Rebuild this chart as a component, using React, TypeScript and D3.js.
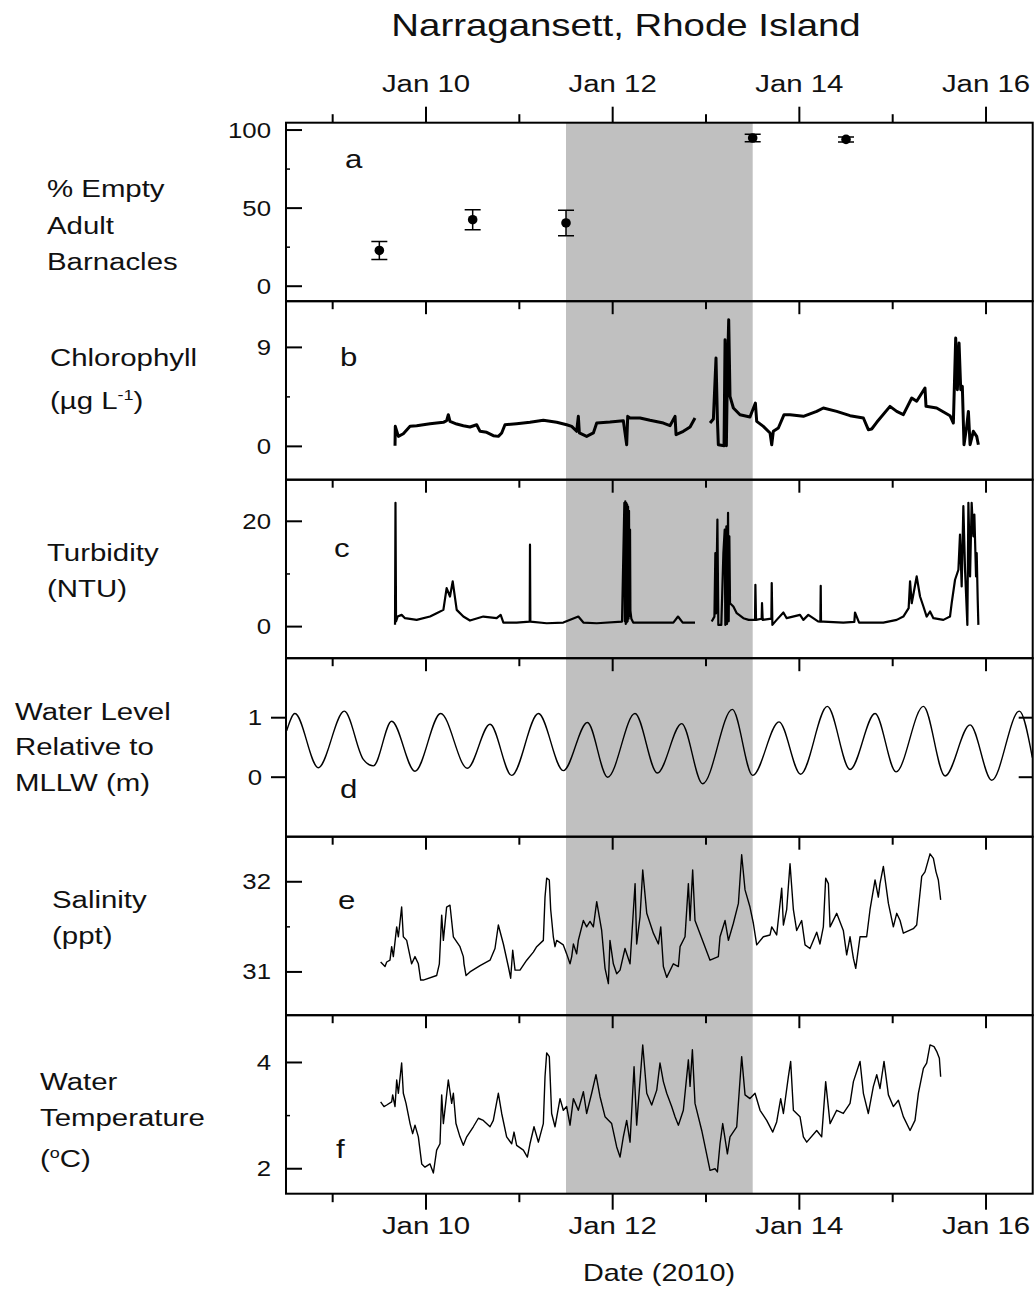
import React from 'react';
import * as d3 from 'd3';

const W = 1034;
const H = 1300;
const FONT = 'Liberation Sans, Arial, Helvetica, sans-serif';
const SX = 1.2;

const xDomain = [8.5, 16.5];
const majorDays = [10, 12, 14, 16];
const minorDays = [9, 11, 13, 15];
const dayLabels = ['Jan 10', 'Jan 12', 'Jan 14', 'Jan 16'];
const shadeDays = [11.5, 13.5];

// Panel a: % empty adult barnacles
const barnDays = [9.5, 10.5, 11.5, 13.5, 14.5];
const barnMean = [22.9, 42.6, 40.5, 94.9, 94.0];
const barnErr = [5.8, 6.4, 8.2, 2.4, 1.6];

// Panel b: chlorophyll (null = gap)
const chlData: [number, number | null][] = [
  [9.668, 0.06], [9.671, 1.82], [9.704, 0.91], [9.757, 1.15], [9.829, 1.82], [9.9, 1.88], [9.971, 1.97],
  [10.043, 2.06], [10.114, 2.12], [10.186, 2.19], [10.221, 2.34], [10.239, 2.88], [10.257, 2.27], [10.329, 2.03],
  [10.4, 1.88], [10.471, 1.76], [10.543, 1.97], [10.579, 1.37], [10.65, 1.28], [10.721, 0.97], [10.775, 0.91],
  [10.811, 1.22], [10.846, 1.97], [10.971, 2.06], [11.114, 2.19], [11.257, 2.37], [11.4, 2.19], [11.507, 1.97],
  [11.561, 1.82], [11.614, 1.37], [11.632, 2.73], [11.643, 1.22], [11.721, 0.91], [11.793, 1.22], [11.829, 2.12],
  [11.971, 2.21], [12.114, 2.34], [12.15, 0.15], [12.161, 2.73], [12.186, 2.58], [12.293, 2.58], [12.4, 2.37],
  [12.543, 2.12], [12.614, 1.88], [12.668, 2.73], [12.679, 1.06], [12.757, 1.37], [12.829, 1.76], [12.882, 2.58],
  [12.95, null],
  [13.043, 2.12], [13.079, 2.49], [13.107, 8.03], [13.122, 2.43], [13.132, 0.15], [13.193, 0.06], [13.204, 9.7],
  [13.218, 0.06], [13.229, 6.67], [13.243, 11.52], [13.257, 4.55], [13.293, 3.49], [13.364, 2.88], [13.471, 2.67],
  [13.529, 3.94], [13.543, 2.27], [13.614, 1.82], [13.686, 1.22], [13.704, 0.15], [13.721, 1.37], [13.775, 1.67],
  [13.836, 2.88], [13.9, 2.88], [14.043, 2.73], [14.186, 3.18], [14.257, 3.49], [14.4, 3.18], [14.543, 2.79],
  [14.686, 2.58], [14.739, 1.52], [14.775, 1.58], [14.829, 2.19], [14.971, 3.64], [15.043, 3.18], [15.114, 2.88],
  [15.204, 4.4], [15.257, 4.1], [15.346, 5.31], [15.357, 3.64], [15.471, 3.49], [15.614, 2.79], [15.65, 2.12],
  [15.675, 9.85], [15.693, 5.15], [15.711, 9.4], [15.729, 5.15], [15.746, 5.46], [15.764, 0.15], [15.793, 1.82],
  [15.811, 3.18], [15.829, 0.15], [15.864, 1.37], [15.9, 0.91], [15.918, 0.15],
];

// Panel c: turbidity (null = gap)
const turbData: [number, number | null][] = [
  [9.668, 0.33], [9.673, 23.5], [9.679, 1.0], [9.696, 1.91], [9.739, 2.23], [9.775, 1.6], [9.9, 1.28],
  [10.043, 1.91], [10.114, 2.55], [10.186, 3.18], [10.221, 7.31], [10.257, 5.72], [10.286, 8.58], [10.329, 3.18],
  [10.4, 1.91], [10.471, 1.15], [10.614, 1.91], [10.757, 1.6], [10.8, 2.23], [10.829, 0.77], [10.971, 0.77],
  [11.111, 0.96], [11.114, 15.56], [11.118, 0.96], [11.293, 0.64], [11.471, 0.77], [11.632, 1.91], [11.686, 0.77],
  [11.829, 0.64], [12.1, 0.96], [12.125, 23.5], [12.13, 1.0], [12.135, 23.8], [12.14, 0.5], [12.145, 23.5],
  [12.15, 0.8], [12.155, 23.2], [12.16, 1.0], [12.165, 22.8], [12.17, 1.5], [12.175, 22.0], [12.18, 2.0],
  [12.186, 18.4], [12.19, 3.0], [12.2, 1.5], [12.22, 0.77], [12.4, 0.77], [12.65, 0.77], [12.7, 1.91],
  [12.75, 0.77], [12.882, 0.77],
  [12.95, null],
  [13.061, 0.96], [13.09, 1.9], [13.1, 13.98], [13.107, 2.5], [13.122, 20.33], [13.132, 0.33], [13.164, 0.33],
  [13.186, 13.98], [13.2, 18.4], [13.207, 0.33], [13.218, 19.06], [13.225, 0.5], [13.236, 21.6], [13.243, 1.0],
  [13.25, 17.15], [13.257, 4.45], [13.293, 3.82], [13.329, 2.55], [13.4, 1.6], [13.457, 1.28], [13.525, 1.28],
  [13.529, 7.94], [13.536, 1.28], [13.596, 1.5], [13.6, 4.45], [13.607, 1.28], [13.7, 1.5], [13.704, 8.26],
  [13.711, 0.33], [13.757, 1.28], [13.829, 2.68], [13.864, 1.6], [14.007, 2.23], [14.043, 1.28], [14.096, 2.23],
  [14.2, 1.0], [14.225, 0.96], [14.229, 7.76], [14.232, 0.96], [14.257, 0.96], [14.471, 0.77], [14.589, 0.9],
  [14.596, 2.68], [14.64, 0.77], [14.9, 0.77], [15.043, 1.28], [15.114, 1.91], [15.171, 3.5], [15.186, 8.58],
  [15.204, 4.45], [15.257, 9.53], [15.293, 5.72], [15.329, 3.82], [15.364, 1.91], [15.4, 2.87], [15.436, 1.6],
  [15.543, 1.28], [15.614, 1.91], [15.632, 4.45], [15.668, 8.9], [15.704, 10.8], [15.721, 17.47], [15.739, 7.63],
  [15.757, 22.87], [15.775, 10.8], [15.8, 0.33], [15.811, 23.5], [15.829, 9.53], [15.846, 23.5], [15.864, 17.15],
  [15.875, 21.28], [15.893, 9.53], [15.9, 13.98], [15.911, 5.0], [15.918, 0.33],
];

// Panel d: water level relative to MLLW (m), highs and lows
const tideData: [number, number][] = [
  [8.507, 0.78], [8.596, 1.07], [8.846, 0.16], [9.125, 1.11], [9.328, 0.3], [9.436, 0.19], [9.632, 0.94],
  [9.882, 0.1], [10.157, 1.07], [10.443, 0.15], [10.686, 0.89], [10.918, 0.03], [11.204, 1.07], [11.471, 0.11],
  [11.729, 0.92], [11.946, 0.0], [12.239, 1.07], [12.479, 0.07], [12.739, 0.9], [12.964, -0.11], [13.282, 1.14],
  [13.5, 0.03], [13.782, 0.93], [14.014, 0.05], [14.3, 1.19], [14.543, 0.13], [14.811, 1.07], [15.036, 0.09],
  [15.329, 1.19], [15.561, 0.02], [15.829, 0.88], [16.061, -0.05], [16.357, 1.11], [16.496, 0.33],
];

// Panel e: salinity (ppt)
const salData: [number, number][] = [
  [9.514, 31.11], [9.561, 31.06], [9.579, 31.11], [9.614, 31.13], [9.632, 31.28], [9.65, 31.17], [9.686, 31.5],
  [9.704, 31.39], [9.739, 31.72], [9.757, 31.39], [9.793, 31.35], [9.846, 31.09], [9.882, 31.17], [9.918, 31.09],
  [9.943, 30.91], [9.971, 30.91], [10.114, 30.96], [10.143, 31.09], [10.168, 31.63], [10.186, 31.35], [10.221, 31.72],
  [10.257, 31.74], [10.293, 31.39], [10.364, 31.28], [10.4, 31.17], [10.407, 31.09], [10.429, 30.96], [10.471, 31.0],
  [10.579, 31.07], [10.686, 31.13], [10.739, 31.26], [10.775, 31.52], [10.829, 31.31], [10.882, 31.06], [10.907, 30.93],
  [10.929, 31.24], [10.954, 31.02], [11.007, 31.02], [11.079, 31.13], [11.15, 31.22], [11.186, 31.28], [11.257, 31.35],
  [11.275, 31.83], [11.293, 32.04], [11.321, 32.02], [11.336, 31.69], [11.364, 31.39], [11.382, 31.28], [11.4, 31.35],
  [11.471, 31.3], [11.507, 31.2], [11.543, 31.09], [11.561, 31.17], [11.579, 31.31], [11.614, 31.2], [11.632, 31.35],
  [11.686, 31.57], [11.721, 31.5], [11.757, 31.56], [11.793, 31.5], [11.829, 31.78], [11.857, 31.61], [11.882, 31.46],
  [11.918, 31.04], [11.954, 30.87], [11.971, 31.35], [12.007, 31.09], [12.043, 30.98], [12.079, 31.02], [12.132, 31.26],
  [12.186, 31.09], [12.24, 31.98], [12.257, 31.31], [12.293, 31.61], [12.322, 32.13], [12.365, 31.65], [12.436, 31.43],
  [12.49, 31.31], [12.515, 31.5], [12.543, 31.06], [12.579, 30.94], [12.65, 31.09], [12.704, 31.06], [12.722, 31.28],
  [12.775, 31.39], [12.811, 31.98], [12.829, 31.57], [12.857, 32.13], [12.882, 31.57], [13.043, 31.13], [13.132, 31.17],
  [13.15, 31.39], [13.204, 31.57], [13.24, 31.35], [13.293, 31.54], [13.347, 31.76], [13.382, 32.3], [13.418, 31.91],
  [13.471, 31.72], [13.507, 31.54], [13.543, 31.3], [13.614, 31.39], [13.686, 31.41], [13.704, 31.5], [13.757, 31.41],
  [13.811, 31.93], [13.829, 31.52], [13.864, 31.69], [13.9, 32.2], [13.936, 31.69], [13.971, 31.46], [14.025, 31.57],
  [14.061, 31.3], [14.114, 31.26], [14.186, 31.44], [14.221, 31.31], [14.257, 31.5], [14.282, 32.04], [14.311, 31.98],
  [14.329, 31.5], [14.4, 31.65], [14.471, 31.46], [14.507, 31.19], [14.543, 31.39], [14.579, 31.15], [14.604, 31.04],
  [14.65, 31.39], [14.721, 31.39], [14.757, 31.69], [14.811, 32.02], [14.846, 31.83], [14.864, 31.98], [14.9, 32.17],
  [14.954, 31.76], [15.007, 31.5], [15.043, 31.65], [15.079, 31.57], [15.114, 31.43], [15.221, 31.48], [15.257, 31.52],
  [15.311, 32.06], [15.346, 32.11], [15.4, 32.31], [15.436, 32.26], [15.464, 32.11], [15.489, 32.02], [15.514, 31.8],
];

// Panel f: water temperature (°C)
const tempData: [number, number][] = [
  [9.514, 3.26], [9.55, 3.17], [9.579, 3.2], [9.632, 3.26], [9.643, 3.39], [9.668, 3.17], [9.686, 3.67],
  [9.704, 3.42], [9.739, 3.99], [9.757, 3.42], [9.786, 3.23], [9.829, 2.85], [9.857, 2.66], [9.882, 2.82],
  [9.918, 2.6], [9.954, 2.09], [9.989, 2.03], [10.043, 2.09], [10.079, 1.92], [10.114, 2.35], [10.15, 2.47],
  [10.168, 3.39], [10.186, 2.85], [10.239, 3.67], [10.275, 3.23], [10.293, 3.42], [10.321, 2.85], [10.364, 2.6],
  [10.4, 2.44], [10.436, 2.6], [10.507, 2.79], [10.561, 2.95], [10.614, 2.91], [10.686, 2.79], [10.721, 2.91],
  [10.775, 3.42], [10.811, 3.04], [10.864, 2.6], [10.918, 2.47], [10.943, 2.69], [10.971, 2.44], [11.043, 2.35],
  [11.086, 2.22], [11.114, 2.47], [11.157, 2.79], [11.204, 2.5], [11.257, 2.85], [11.275, 3.73], [11.293, 4.18],
  [11.321, 4.11], [11.346, 3.04], [11.382, 2.79], [11.436, 3.32], [11.471, 3.1], [11.507, 3.17], [11.543, 2.82],
  [11.579, 3.32], [11.632, 3.1], [11.686, 3.45], [11.721, 3.04], [11.775, 3.42], [11.821, 3.77], [11.864, 3.36],
  [11.918, 2.98], [11.989, 2.85], [12.043, 2.41], [12.079, 2.22], [12.114, 2.6], [12.15, 2.91], [12.186, 2.5],
  [12.229, 3.92], [12.257, 2.82], [12.322, 4.33], [12.365, 3.42], [12.418, 3.2], [12.472, 3.48], [12.507, 3.99],
  [12.543, 3.64], [12.579, 3.42], [12.632, 3.17], [12.668, 2.98], [12.704, 2.82], [12.757, 3.1], [12.811, 4.05],
  [12.829, 3.55], [12.854, 4.24], [12.882, 3.23], [12.954, 2.72], [13.043, 1.97], [13.097, 2.0], [13.122, 1.94],
  [13.15, 2.47], [13.179, 2.85], [13.229, 2.28], [13.257, 2.6], [13.329, 2.79], [13.382, 4.11], [13.418, 3.39],
  [13.471, 3.32], [13.525, 3.42], [13.579, 3.1], [13.65, 2.91], [13.715, 2.69], [13.757, 2.88], [13.8, 3.32],
  [13.829, 3.04], [13.882, 3.73], [13.907, 4.02], [13.936, 3.1], [14.007, 2.98], [14.043, 2.6], [14.079, 2.5],
  [14.186, 2.72], [14.239, 2.6], [14.282, 3.64], [14.329, 2.85], [14.4, 3.1], [14.471, 3.04], [14.543, 3.23],
  [14.579, 3.64], [14.65, 4.02], [14.686, 3.42], [14.739, 3.04], [14.793, 3.55], [14.829, 3.77], [14.864, 3.51],
  [14.907, 4.02], [14.954, 3.39], [15.007, 3.17], [15.061, 3.29], [15.114, 2.98], [15.186, 2.72], [15.239, 2.91],
  [15.275, 3.42], [15.329, 3.89], [15.364, 3.99], [15.4, 4.33], [15.443, 4.3], [15.471, 4.21], [15.5, 4.08],
  [15.514, 3.73],
];

const PLOT_LEFT = 286;
const PLOT_RIGHT = 1032.7;
const PANEL_TOP = 122.7;
const PANEL_H = 178.5;

type Panel = {
  key: string;
  letter: string;
  letterX: number;
  letterDy: number;
  domain: [number, number];
  major: number[];
  minor: number[];
  labels: { text: React.ReactNode; x: number; y: number }[];
  data?: [number, number | null][];
  width?: number;
  curve?: any;
  tideStyle?: boolean;
};

const sup = (base: string, s: string, tail: string) => (
  <>
    {base}
    <tspan dy={-9} fontSize={15}>{s}</tspan>
    <tspan dy={9}>{tail}</tspan>
  </>
);

const panels: Panel[] = [
  {
    key: 'a', letter: 'a', letterX: 345, letterDy: 45, domain: [-9.6, 104.7], major: [0, 50, 100], minor: [25, 75],
    labels: [
      { text: '% Empty', x: 47, y: 197 },
      { text: 'Adult', x: 47, y: 234 },
      { text: 'Barnacles', x: 47, y: 270 },
    ],
  },
  {
    key: 'b', letter: 'b', letterX: 340, letterDy: 65, domain: [-3.03, 13.2], major: [0, 9], minor: [4.5],
    labels: [
      { text: 'Chlorophyll', x: 50, y: 366 },
      { text: sup('(µg L', '-1', ')'), x: 50, y: 409 },
    ],
    data: chlData, width: 3,
  },
  {
    key: 'c', letter: 'c', letterX: 334, letterDy: 77, domain: [-6.0, 27.9], major: [0, 20], minor: [10],
    labels: [
      { text: 'Turbidity', x: 47, y: 561 },
      { text: '(NTU)', x: 47, y: 597 },
    ],
    data: turbData, width: 2.2,
  },
  {
    key: 'd', letter: 'd', letterX: 340, letterDy: 140, domain: [-1, 2], major: [0, 1], minor: [],
    labels: [
      { text: 'Water Level', x: 15, y: 720 },
      { text: 'Relative to', x: 15, y: 755 },
      { text: 'MLLW (m)', x: 15, y: 791 },
    ],
    data: tideData, width: 1.4, curve: d3.curveMonotoneX, tideStyle: true,
  },
  {
    key: 'e', letter: 'e', letterX: 338, letterDy: 72, domain: [30.52, 32.5], major: [31, 32], minor: [31.5],
    labels: [
      { text: 'Salinity', x: 52, y: 908 },
      { text: '(ppt)', x: 52, y: 944 },
    ],
    data: salData, width: 1.4,
  },
  {
    key: 'f', letter: 'f', letterX: 336, letterDy: 143, domain: [1.53, 4.89], major: [2, 4], minor: [3],
    labels: [
      { text: 'Water', x: 40, y: 1090 },
      { text: 'Temperature', x: 40, y: 1126 },
      { text: sup('(', 'o', 'C)'), x: 40, y: 1167 },
    ],
    data: tempData, width: 1.4,
  },
];

const T = ({ x, y, size, anchor = 'start', children, sx = SX }: any) => (
  <text
    transform={`translate(${x},${y}) scale(${sx},1)`}
    fontSize={size}
    fontFamily={FONT}
    textAnchor={anchor}
    fill="#111"
  >
    {children}
  </text>
);

export default function App() {
  const x = d3.scaleLinear().domain(xDomain).range([PLOT_LEFT, PLOT_RIGHT]);
  const bottomAll = PANEL_TOP + PANEL_H * panels.length;

  return (
    <svg
      width={W}
      height={H}
      viewBox={`0 0 ${W} ${H}`}
      style={{ position: 'absolute', left: 0, top: 0, background: '#fff' }}
    >
      <rect x={0} y={0} width={W} height={H} fill="#fff" />
      <defs>
        {panels.map((p, i) => (
          <clipPath id={`clip-${p.key}`} key={p.key}>
            <rect x={PLOT_LEFT} y={PANEL_TOP + i * PANEL_H} width={PLOT_RIGHT - PLOT_LEFT} height={PANEL_H} />
          </clipPath>
        ))}
      </defs>

      {/* shaded period */}
      <rect
        x={x(shadeDays[0])}
        y={PANEL_TOP}
        width={x(shadeDays[1]) - x(shadeDays[0])}
        height={bottomAll - PANEL_TOP}
        fill="#c0c0c0"
      />

      {/* title */}
      <T x={626} y={36} size={32} anchor="middle">Narragansett, Rhode Island</T>

      {/* top axis labels */}
      {majorDays.map((d, i) => (
        <T key={`tl${d}`} x={x(d)} y={92} size={24.5} anchor="middle">{dayLabels[i]}</T>
      ))}
      {/* bottom axis labels */}
      {majorDays.map((d, i) => (
        <T key={`bl${d}`} x={x(d)} y={1234} size={24.5} anchor="middle">{dayLabels[i]}</T>
      ))}
      <T x={659} y={1281} size={24} anchor="middle">Date (2010)</T>

      {panels.map((p, i) => {
        const top = PANEL_TOP + i * PANEL_H;
        const bottom = top + PANEL_H;
        const y = d3.scaleLinear().domain(p.domain).range([bottom, top]);
        const first = i === 0;
        const last = i === panels.length - 1;
        let path: string | null = null;
        if (p.data) {
          const line = d3
            .line<[number, number | null]>()
            .defined((d) => d[1] !== null)
            .x((d) => x(d[0]))
            .y((d) => y(d[1] as number));
          if (p.curve) line.curve(p.curve);
          path = line(p.data);
        }
        return (
          <g key={p.key}>
            <g clipPath={`url(#clip-${p.key})`}>
              {path && (
                <path d={path} fill="none" stroke="#000" strokeWidth={p.width} strokeLinejoin="round" />
              )}
              {p.key === 'a' &&
                barnDays.map((d, j) => {
                  const cx = x(d);
                  return (
                    <g key={j}>
                      <line x1={cx} x2={cx} y1={y(barnMean[j] - barnErr[j])} y2={y(barnMean[j] + barnErr[j])} stroke="#000" strokeWidth={1.5} />
                      <line x1={cx - 8} x2={cx + 8} y1={y(barnMean[j] - barnErr[j])} y2={y(barnMean[j] - barnErr[j])} stroke="#000" strokeWidth={1.5} />
                      <line x1={cx - 8} x2={cx + 8} y1={y(barnMean[j] + barnErr[j])} y2={y(barnMean[j] + barnErr[j])} stroke="#000" strokeWidth={1.5} />
                      <circle cx={cx} cy={y(barnMean[j])} r={4.8} fill="#000" />
                    </g>
                  );
                })}
            </g>

            {/* frame */}
            <rect x={PLOT_LEFT} y={top} width={PLOT_RIGHT - PLOT_LEFT} height={PANEL_H} fill="none" stroke="#000" strokeWidth={2} />

            {/* top x ticks */}
            {majorDays.map((d) => (
              <line key={`mj${d}`} x1={x(d)} x2={x(d)} y1={top} y2={first ? top - 16 : top + 13} stroke="#000" strokeWidth={2} />
            ))}
            {minorDays.map((d) => (
              <line key={`mn${d}`} x1={x(d)} x2={x(d)} y1={top} y2={first ? top - 8.5 : top + 8} stroke="#000" strokeWidth={2} />
            ))}
            {last &&
              majorDays.map((d) => (
                <line key={`bmj${d}`} x1={x(d)} x2={x(d)} y1={bottom} y2={bottom + 16} stroke="#000" strokeWidth={2} />
              ))}
            {last &&
              minorDays.map((d) => (
                <line key={`bmn${d}`} x1={x(d)} x2={x(d)} y1={bottom} y2={bottom + 8.5} stroke="#000" strokeWidth={2} />
              ))}

            {/* y ticks */}
            {p.major.map((v) => (
              <line
                key={`ymj${v}`}
                x1={PLOT_LEFT}
                x2={p.tideStyle ? PLOT_LEFT - 15 : PLOT_LEFT + 16}
                y1={y(v)}
                y2={y(v)}
                stroke="#000"
                strokeWidth={2}
              />
            ))}
            {p.tideStyle &&
              p.major.map((v) => (
                <line key={`yr${v}`} x1={PLOT_RIGHT} x2={PLOT_RIGHT - 14} y1={y(v)} y2={y(v)} stroke="#000" strokeWidth={2} />
              ))}
            {p.minor.map((v) => (
              <line key={`ymn${v}`} x1={PLOT_LEFT} x2={PLOT_LEFT + 4} y1={y(v)} y2={y(v)} stroke="#000" strokeWidth={1.5} />
            ))}
            {p.major.map((v) => (
              <T key={`yl${v}`} x={p.tideStyle ? 262 : 271} y={y(v) + 7.5} size={21.5} anchor="end">
                {String(v)}
              </T>
            ))}

            {/* panel letter */}
            <T x={p.letterX} y={top + p.letterDy} size={26}>{p.letter}</T>

            {/* y label */}
            {p.labels.map((l, k) => (
              <T key={k} x={l.x} y={l.y} size={24.5}>{l.text}</T>
            ))}
          </g>
        );
      })}
    </svg>
  );
}
